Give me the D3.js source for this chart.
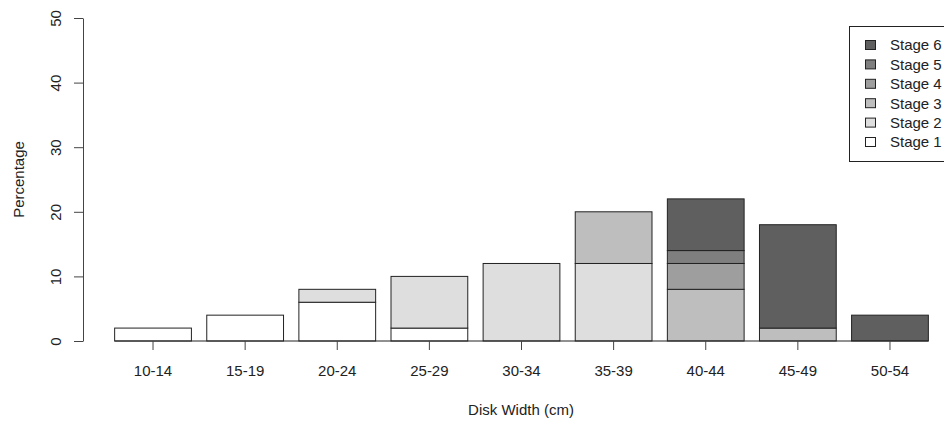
<!DOCTYPE html>
<html>
<head>
<meta charset="utf-8">
<script src="https://cdn.jsdelivr.net/npm/d3@7"></script>
<style>
  html, body { margin: 0; padding: 0; background: #fff; }
  svg { display: block; font-family: "Liberation Sans", Arial, sans-serif; }
</style>
</head>
<body>
<svg id="chart" width="944" height="424"></svg>
<script>
// Size classes (disk width, cm)
const categories = ["10-14", "15-19", "20-24", "25-29", "30-34", "35-39", "40-44", "45-49", "50-54"];
// Maturity stages, bottom of stack first
const stages = ["Stage 1", "Stage 2", "Stage 3", "Stage 4", "Stage 5", "Stage 6"];
// Percentage of individuals per size class, one array per stage
const stage1 = [2, 4, 6, 2, 0, 0, 0, 0, 0];
const stage2 = [0, 0, 2, 8, 12, 12, 0, 0, 0];
const stage3 = [0, 0, 0, 0, 0, 8, 8, 2, 0];
const stage4 = [0, 0, 0, 0, 0, 0, 4, 0, 0];
const stage5 = [0, 0, 0, 0, 0, 0, 2, 0, 0];
const stage6 = [0, 0, 0, 0, 0, 0, 8, 16, 4];
const yTicks = [0, 10, 20, 30, 40, 50];
const stageColors = ["#ffffff", "#dedede", "#bebebe", "#9e9e9e", "#7f7f7f", "#5f5f5f"];

const seriesValues = [stage1, stage2, stage3, stage4, stage5, stage6];
const rows = categories.map((c, i) => {
  const r = { cat: c };
  stages.forEach((s, k) => { r[s] = seriesValues[k][i]; });
  return r;
});

const FONT = 15;
const svg = d3.select("#chart");
const plotLeft = 107, plotRight = 936;

const x = d3.scaleBand().domain(categories).range([plotLeft, plotRight])
  .paddingInner(0.1667).paddingOuter(0.083);
const y = d3.scaleLinear().domain([0, 50]).range([341, 18]);

const stacked = d3.stack().keys(stages)(rows);
const color = d3.scaleOrdinal().domain(stages).range(stageColors);

// Stacked bars
svg.append("g").selectAll("g").data(stacked).join("g")
  .attr("fill", d => color(d.key))
  .selectAll("rect").data(d => d.filter(p => p[1] > p[0])).join("rect")
  .attr("x", d => x(d.data.cat))
  .attr("width", x.bandwidth())
  .attr("y", d => y(d[1]))
  .attr("height", d => y(d[0]) - y(d[1]))
  .attr("stroke", "#222")
  .attr("stroke-width", 1);

// Baseline across the bars
svg.append("line")
  .attr("x1", x(categories[0])).attr("x2", x(categories[categories.length - 1]) + x.bandwidth())
  .attr("y1", y(0)).attr("y2", y(0))
  .attr("stroke", "#222").attr("stroke-width", 1);

// X axis: ticks under bar centres, no domain line
const xAxis = svg.append("g")
  .attr("transform", `translate(0,${y(0)})`)
  .call(d3.axisBottom(x).tickSize(9).tickPadding(10));
xAxis.select(".domain").remove();
xAxis.selectAll(".tick line").attr("stroke", "#444");
xAxis.selectAll("text").attr("font-size", FONT).attr("fill", "#222")
  .attr("font-family", "Liberation Sans, Arial, sans-serif")
  .attr("y", 35).attr("dy", null);

// Y axis with rotated tick labels
const yAxis = svg.append("g")
  .attr("transform", "translate(83,0)")
  .call(d3.axisLeft(y).tickValues(yTicks).tickSize(9).tickSizeOuter(0));
yAxis.select(".domain").attr("stroke", "#444");
yAxis.selectAll(".tick line").attr("stroke", "#444");
yAxis.selectAll("text")
  .attr("font-size", FONT).attr("fill", "#222")
  .attr("font-family", "Liberation Sans, Arial, sans-serif")
  .attr("text-anchor", "middle")
  .attr("x", null).attr("dy", null)
  .attr("transform", "translate(-22,0) rotate(-90)");

// Axis titles
svg.append("text")
  .attr("x", 521).attr("y", 415)
  .attr("text-anchor", "middle").attr("font-size", FONT).attr("fill", "#222")
  .text("Disk Width (cm)");
svg.append("text")
  .attr("transform", `translate(24,${(y(0) + y(50)) / 2}) rotate(-90)`)
  .attr("text-anchor", "middle").attr("font-size", FONT).attr("fill", "#222")
  .text("Percentage");

// Legend (top stage first)
const legend = svg.append("g");
legend.append("rect")
  .attr("x", 849.5).attr("y", 26.5).attr("width", 120).attr("height", 135)
  .attr("fill", "#fff").attr("stroke", "#222");
const legendStages = stages.slice().reverse();
legendStages.forEach((s, i) => {
  const cy = 45 + i * 19.4;
  legend.append("rect")
    .attr("x", 865.5).attr("y", cy - 4.5).attr("width", 10).attr("height", 9)
    .attr("fill", color(s)).attr("stroke", "#222");
  legend.append("text")
    .attr("x", 890).attr("y", cy).attr("dy", "0.36em")
    .attr("font-size", FONT).attr("fill", "#222").text(s);
});
</script>
</body>
</html>
